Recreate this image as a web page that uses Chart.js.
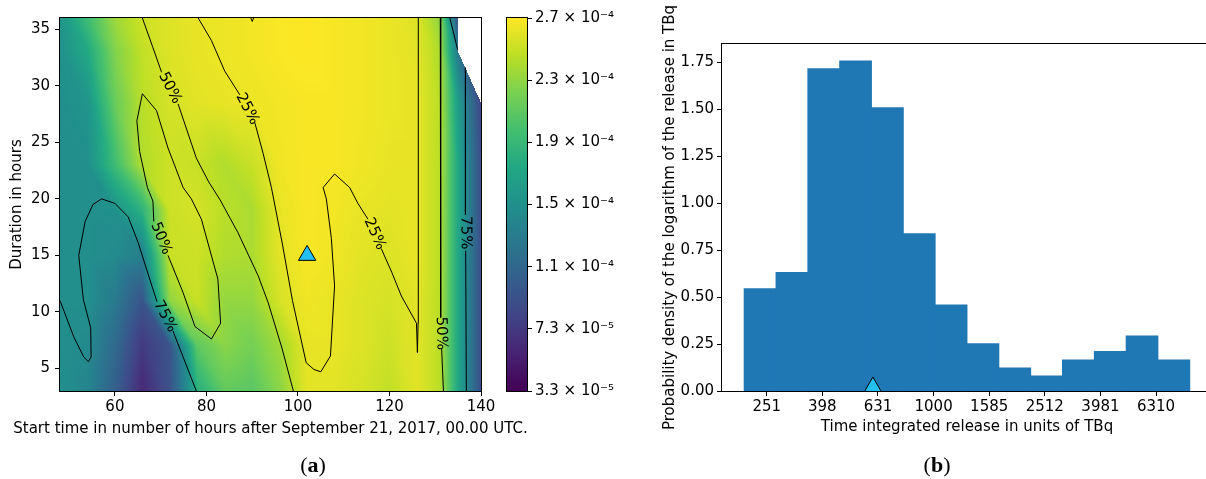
<!DOCTYPE html>
<html>
<head>
<meta charset="utf-8">
<script src="https://cdn.jsdelivr.net/npm/chart.js@4.4.1/dist/chart.umd.min.js"></script>
<style>
  html, body { margin: 0; padding: 0; background: #fff; width: 1206px; height: 479px; overflow: hidden; }
  canvas { position: absolute; top: 0; }
  #heat { left: 0; }
  #cbar { left: 500px; }
  #hist { left: 640px; }
  .cap { position: absolute; top: 454px; line-height: 22px; font-family: "Liberation Serif", "DejaVu Serif", serif; font-size: 22px; transform: translateX(-50%); white-space: nowrap; }
  .cap b { font-weight: bold; }
</style>
</head>
<body>
<canvas id="heat" width="560" height="479"></canvas>
<canvas id="cbar" width="120" height="479"></canvas>
<canvas id="hist" width="580" height="479"></canvas>
<div class="cap" style="left:313px">(<b>a</b>)</div>
<div class="cap" style="left:937px">(<b>b</b>)</div>
<script>
// ---------- panel (a): field over start time / duration ----------
const startNodes = [48, 54, 60, 66, 72, 78, 84, 90, 96, 102, 108, 114, 120, 126, 131, 134.9, 140];
const durationNodes = [3, 7, 11, 15, 19, 23, 28.5, 33.1, 36];
// field values in units of 1e-4, one row per duration node (null = not sampled)
const rowD03 = [1.50, 1.40, 1.05, 0.60, 0.92, 1.80, 2.12, 2.08, 2.28, 2.60, 2.60, 2.55, 2.48, 2.60, 2.45, 1.75, 0.90];
const rowD07 = [1.50, 1.45, 1.15, 0.72, 0.95, 2.10, 2.28, 2.20, 2.36, 2.62, 2.62, 2.58, 2.52, 2.60, 2.45, 1.75, 0.90];
const rowD11 = [1.50, 1.50, 1.30, 0.95, 2.30, 2.50, 2.32, 2.32, 2.55, 2.65, 2.62, 2.58, 2.55, 2.60, 2.45, 1.75, 0.90];
const rowD15 = [1.50, 1.50, 1.45, 1.35, 2.50, 2.52, 2.42, 2.40, 2.60, 2.68, 2.65, 2.60, 2.58, 2.62, 2.45, 1.75, 0.90];
const rowD19 = [1.50, 1.50, 1.52, 1.85, 2.52, 2.55, 2.45, 2.40, 2.62, 2.68, 2.66, 2.62, 2.60, 2.62, 2.45, 1.75, 0.90];
const rowD23 = [1.50, 1.50, 1.95, 2.42, 2.52, 2.50, 2.42, 2.50, 2.65, 2.68, 2.68, 2.65, 2.62, 2.62, 2.45, 1.75, 0.90];
const rowD28 = [1.50, 1.55, 2.15, 2.45, 2.55, 2.60, 2.62, 2.64, 2.66, 2.68, 2.68, 2.66, 2.63, 2.62, 2.45, 1.65, 0.82];
const rowD33 = [1.52, 1.75, 2.25, 2.48, 2.58, 2.62, 2.64, 2.66, 2.69, 2.70, 2.68, 2.66, 2.63, 2.60, 2.40, 1.30, null];
const rowD36 = [1.55, 1.95, 2.35, 2.52, 2.58, 2.62, 2.64, 2.66, 2.69, 2.70, 2.68, 2.66, 2.63, 2.58, 2.30, 0.95, null];
const fieldRows = [rowD03, rowD07, rowD11, rowD15, rowD19, rowD23, rowD28, rowD33, rowD36];

// probability contours (start time, duration); null breaks the line for a label
const contour50Upper = [[66.0,36.0],[68.2,33.5],[70.2,31.2],null,[73.8,28.4],[75.8,26.0],[77.8,23.6],[80.5,21.5],[83.0,19.9],[86.9,17.0],[91.3,13.2],[93.5,10.8],[96.5,6.8],[99.0,3.0]];
const contour25Main = [[78.2,36.0],[81.1,34.0],[84.0,31.3],[87.3,29.2],null,[90.6,26.7],[92.4,24.0],[94.2,21.0],[96.6,16.0],[98.8,11.0],[101.8,5.5],[103.5,4.9],[105.0,4.7],[107.1,6.1],[108.0,12.3],[107.3,16.5],[106.2,20.0],[105.5,21.0],[108.0,22.2],[111.3,21.0],[113.1,19.6],[115.3,18.2],null,[118.2,15.6],[120.5,13.5],[122.6,11.4],[125.9,9.0],[126.1,6.4],[126.25,9.0],[126.3,36.0]];
const contour50Inner = [[66.0,29.3],[69.1,27.8],[71.6,24.5],[74.9,21.0],[76.7,20.0],[78.9,18.2],[82.5,12.9],[83.1,9.0],[81.1,7.6],[77.5,8.7],[74.9,11.7],[71.6,15.0],null,[68.5,18.0],[68.3,19.8],[67.1,21.0],[65.4,24.2],[64.8,26.9],[66.0,29.3]];
const contour75Left = [[48.0,11.0],[51.0,7.8],[53.2,6.0],[54.2,5.6],[54.8,6.0],[54.7,8.6],[53.1,11.1],[52.1,15.0],[53.5,18.0],[55.2,19.5],[57.1,20.0],[60.0,19.6],[62.9,18.4],[65.1,16.1],[67.6,12.9],[69.2,10.9],null,[72.7,8.3],[77.8,3.0]];
const contour50Right = [[131.1,36.0],[131.2,9.5],null,[131.4,6.7],[131.8,3.0]];
const contour75Right = [[136.6,31.6],[136.6,18.6],null,[136.65,15.4],[136.8,3.0]];
const contour75Corner = [[133.2,36.0],[134.9,33.2]];
const contour25Tip = [[89.7,36.0],[90.0,35.7],[90.3,36.0]];
const contourLabels = [
  { text: '50%', from: [70.2, 31.2], to: [73.8, 28.4] },
  { text: '25%', from: [87.3, 29.2], to: [90.6, 26.7] },
  { text: '50%', from: [68.5, 18.0], to: [71.6, 15.0] },
  { text: '75%', from: [69.2, 10.9], to: [72.7, 8.3] },
  { text: '25%', from: [115.3, 18.2], to: [118.2, 15.6] },
  { text: '50%', from: [131.2, 9.5], to: [131.4, 6.7] },
  { text: '75%', from: [136.6, 18.6], to: [136.65, 15.4] }
];
const bestEstimate = { start: 102, duration: 15 };
const startTicks = [60, 80, 100, 120, 140];
const durationTicks = [5, 10, 15, 20, 25, 30, 35];
const startTitle = 'Start time in number of hours after September 21, 2017, 00.00 UTC.';

// colour bar (units of 1e-4)
const cbMin = 0.33, cbMax = 2.70;
const cbTicks = [0.33, 0.725, 1.12, 1.515, 1.91, 2.305, 2.70];
const cbTickLabels = ['3.3 × 10⁻⁵', '7.3 × 10⁻⁵', '1.1 × 10⁻⁴', '1.5 × 10⁻⁴', '1.9 × 10⁻⁴', '2.3 × 10⁻⁴', '2.7 × 10⁻⁴'];

// ---------- panel (b): histogram of log10 release ----------
const binEdgesLog = [2.319, 2.433, 2.548, 2.662, 2.777, 2.891, 3.006, 3.120, 3.235, 3.349, 3.463, 3.578, 3.692, 3.807, 3.921];
const density = [0.544, 0.631, 1.716, 1.758, 1.508, 0.837, 0.458, 0.252, 0.123, 0.080, 0.165, 0.210, 0.293, 0.165];
const releaseTickLogs = [2.4, 2.6, 2.8, 3.0, 3.2, 3.4, 3.6, 3.8];
const releaseTickLabels = ['251', '398', '631', '1000', '1585', '2512', '3981', '6310'];
const densityTicks = [0, 0.25, 0.5, 0.75, 1.0, 1.25, 1.5, 1.75];
const bestRelease = 605; // TBq

// ---------- helpers ----------
const FONT = { family: 'DejaVu Sans', size: 15 };
const VIRIDIS = ['#440154', '#482475', '#414487', '#355f8d', '#2a788e', '#21918c', '#22a884', '#44bf70', '#7ad151', '#bddf26', '#fde725']
  .map(h => [parseInt(h.slice(1, 3), 16), parseInt(h.slice(3, 5), 16), parseInt(h.slice(5, 7), 16)]);
function viridis(t) {
  t = Math.min(1, Math.max(0, t));
  const p = t * (VIRIDIS.length - 1), i = Math.min(VIRIDIS.length - 2, Math.floor(p)), f = p - i;
  const a = VIRIDIS[i], b = VIRIDIS[i + 1];
  return [a[0] + (b[0] - a[0]) * f, a[1] + (b[1] - a[1]) * f, a[2] + (b[2] - a[2]) * f];
}
function cellIndex(nodes, v) {
  for (let i = 0; i < nodes.length - 2; i++) if (v < nodes[i + 1]) return i;
  return nodes.length - 2;
}
// linear interpolation on the two triangles of each grid cell
function fieldAt(xv, yv) {
  const i = cellIndex(startNodes, xv), j = cellIndex(durationNodes, yv);
  const u = (xv - startNodes[i]) / (startNodes[i + 1] - startNodes[i]);
  const v = (yv - durationNodes[j]) / (durationNodes[j + 1] - durationNodes[j]);
  const f00 = fieldRows[j][i], f10 = fieldRows[j][i + 1], f01 = fieldRows[j + 1][i], f11 = fieldRows[j + 1][i + 1];
  if (u + v <= 1) {
    if (f00 == null || f10 == null || f01 == null) return null;
    return f00 + u * (f10 - f00) + v * (f01 - f00);
  }
  if (f11 == null || f10 == null || f01 == null) return null;
  return f11 + (1 - u) * (f01 - f11) + (1 - v) * (f10 - f11);
}
const toPoints = arr => arr.map(p => p ? { x: p[0], y: p[1] } : { x: NaN, y: NaN });

const heatFieldPlugin = {
  id: 'heatField',
  beforeDatasetsDraw(chart) {
    const { ctx, chartArea: a, scales: { x, y } } = chart;
    const w = Math.round(a.right - a.left), h = Math.round(a.bottom - a.top);
    const off = document.createElement('canvas');
    off.width = w; off.height = h;
    const octx = off.getContext('2d');
    const img = octx.createImageData(w, h);
    for (let py = 0; py < h; py++) {
      const yv = y.getValueForPixel(a.top + py + 0.5);
      for (let px = 0; px < w; px++) {
        const xv = x.getValueForPixel(a.left + px + 0.5);
        const val = fieldAt(xv, yv);
        const k = (py * w + px) * 4;
        if (val == null) { img.data[k + 3] = 0; continue; }
        const c = viridis((val - cbMin) / (cbMax - cbMin));
        img.data[k] = c[0]; img.data[k + 1] = c[1]; img.data[k + 2] = c[2]; img.data[k + 3] = 255;
      }
    }
    octx.putImageData(img, 0, 0);
    ctx.drawImage(off, a.left, a.top);
  }
};

const contourLabelPlugin = {
  id: 'contourLabels',
  afterDatasetsDraw(chart) {
    const { ctx, scales: { x, y } } = chart;
    ctx.save();
    ctx.font = `${FONT.size}px ${FONT.family}`;
    ctx.fillStyle = '#000';
    ctx.textAlign = 'center';
    ctx.textBaseline = 'middle';
    contourLabels.forEach(l => {
      const ax = x.getPixelForValue(l.from[0]), ay = y.getPixelForValue(l.from[1]);
      const bx = x.getPixelForValue(l.to[0]), by = y.getPixelForValue(l.to[1]);
      let ang = Math.atan2(by - ay, bx - ax);
      if (ang > Math.PI / 2) ang -= Math.PI;
      if (ang <= -Math.PI / 2) ang += Math.PI;
      ctx.save();
      ctx.translate((ax + bx) / 2, (ay + by) / 2);
      ctx.rotate(ang);
      ctx.fillText(l.text, 0, 0);
      ctx.restore();
    });
    ctx.restore();
  }
};

// x-axis caption of panel (a), wider than the plot itself
const startTitlePlugin = {
  id: 'startTitle',
  afterDraw(chart) {
    const { ctx, chartArea: a } = chart;
    ctx.save();
    ctx.font = `${FONT.size}px ${FONT.family}`;
    ctx.fillStyle = '#000';
    ctx.textAlign = 'center';
    ctx.textBaseline = 'middle';
    ctx.fillText(startTitle, (a.left + a.right) / 2, a.bottom + 38);
    ctx.restore();
  }
};

const framePlugin = {
  id: 'frame',
  afterDatasetsDraw(chart) {
    const { ctx, chartArea: a } = chart;
    ctx.save();
    ctx.strokeStyle = '#000';
    ctx.lineWidth = 1;
    ctx.strokeRect(Math.round(a.left) - 0.5, Math.round(a.top) - 0.5, Math.round(a.right - a.left) + 1, Math.round(a.bottom - a.top) + 1);
    ctx.restore();
  }
};

const colourBarPlugin = {
  id: 'colourBar',
  beforeDatasetsDraw(chart) {
    const { ctx, chartArea: a, scales: { y } } = chart;
    for (let py = Math.round(a.top); py < Math.round(a.bottom); py++) {
      const c = viridis((y.getValueForPixel(py + 0.5) - cbMin) / (cbMax - cbMin));
      ctx.fillStyle = `rgb(${c[0] | 0},${c[1] | 0},${c[2] | 0})`;
      ctx.fillRect(a.left, py, a.right - a.left, 1);
    }
  }
};

const tickGrid = { drawOnChartArea: false, drawTicks: true, tickLength: 5, color: '#000', lineWidth: 1 };
const common = {
  responsive: false,
  animation: false,
  devicePixelRatio: 1,
  plugins: { legend: { display: false }, tooltip: { enabled: false } }
};

// panel (a)
const lineStyle = { showLine: true, borderColor: '#000', borderWidth: 1, pointRadius: 0, fill: false, tension: 0 };
new Chart(document.getElementById('heat'), {
  type: 'scatter',
  data: {
    datasets: [
      contour50Upper, contour25Main, contour50Inner, contour75Left,
      contour50Right, contour75Right, contour75Corner, contour25Tip
    ].map(c => Object.assign({ data: toPoints(c) }, lineStyle)).concat([{
      data: [{ x: bestEstimate.start, y: bestEstimate.duration }],
      pointStyle: 'triangle', pointRadius: 10,
      pointBackgroundColor: '#22bff0', pointBorderColor: '#000', pointBorderWidth: 1
    }])
  },
  options: Object.assign({}, common, {
    layout: { autoPadding: false, padding: { top: 18, right: 79, left: 0, bottom: 0 } },
    scales: {
      x: {
        type: 'linear', min: 48, max: 140,
        afterBuildTicks: s => { s.ticks = startTicks.map(v => ({ value: v })); },
        afterFit: s => { s.height = 88; },
        grid: tickGrid, border: { display: false },
        ticks: { font: FONT, color: '#000', padding: 2, maxRotation: 0, autoSkip: false }
      },
      y: {
        type: 'linear', min: 3, max: 36,
        afterBuildTicks: s => { s.ticks = durationTicks.map(v => ({ value: v })); },
        afterFit: s => { s.width = 60; },
        grid: tickGrid, border: { display: false },
        ticks: { font: FONT, color: '#000', padding: 5, autoSkip: false },
        title: { display: true, text: 'Duration in hours', font: FONT, color: '#000', padding: { top: 8, bottom: 0 } }
      }
    }
  }),
  plugins: [heatFieldPlugin, contourLabelPlugin, framePlugin, startTitlePlugin]
});

// colour bar
new Chart(document.getElementById('cbar'), {
  type: 'scatter',
  data: { datasets: [] },
  options: Object.assign({}, common, {
    layout: { autoPadding: false, padding: { top: 18, right: 0, left: 7, bottom: 88 } },
    scales: {
      x: { type: 'linear', display: false, min: 0, max: 1 },
      y: {
        type: 'linear', position: 'right', min: cbMin, max: cbMax,
        afterBuildTicks: s => { s.ticks = cbTicks.map(v => ({ value: v })); },
        afterFit: s => { s.width = 93; },
        grid: tickGrid, border: { display: false },
        ticks: { font: FONT, color: '#000', padding: 3, autoSkip: false,
          callback: (v, i) => cbTickLabels[i] }
      }
    }
  }),
  plugins: [colourBarPlugin, framePlugin]
});

// panel (b)
const binCentres = density.map((_, i) => (binEdgesLog[i] + binEdgesLog[i + 1]) / 2);
new Chart(document.getElementById('hist'), {
  type: 'bar',
  data: {
    datasets: [{
      order: 1,
      data: binCentres.map((c, i) => ({ x: c, y: density[i] })),
      backgroundColor: '#1f77b4', borderWidth: 0, inflateAmount: 0.5,
      barPercentage: 1, categoryPercentage: 1
    }, {
      order: 0,
      type: 'scatter',
      data: [{ x: Math.log10(bestRelease), y: 0 }],
      pointStyle: 'triangle', pointRadius: 14,
      pointBackgroundColor: '#22bff0', pointBorderColor: '#000', pointBorderWidth: 1,
      clip: 0
    }]
  },
  options: Object.assign({}, common, {
    layout: { autoPadding: false, padding: { top: 44, right: 8, left: 0, bottom: 0 } },
    scales: {
      x: {
        type: 'linear', min: 2.2392, max: 4.0011, offset: false,
        afterBuildTicks: s => { s.ticks = releaseTickLogs.map(v => ({ value: v })); },
        afterFit: s => { s.height = 88; },
        grid: Object.assign({ offset: false }, tickGrid), border: { display: false },
        ticks: { font: FONT, color: '#000', padding: 2, maxRotation: 0, autoSkip: false,
          callback: (v, i) => releaseTickLabels[i] },
        title: { display: true, text: 'Time integrated release in units of TBq', font: FONT, color: '#000', padding: { top: 0, bottom: 43 } }
      },
      y: {
        type: 'linear', min: 0, max: 1.848,
        afterBuildTicks: s => { s.ticks = densityTicks.map(v => ({ value: v })); },
        afterFit: s => { s.width = 82; },
        grid: tickGrid, border: { display: false },
        ticks: { font: FONT, color: '#000', padding: 3, autoSkip: false,
          callback: v => v.toFixed(2) },
        title: { display: true, text: 'Probability density of the logarithm of the release in TBq', font: FONT, color: '#000', padding: { top: 21, bottom: 0 } }
      }
    }
  }),
  plugins: [framePlugin]
});
</script>
</body>
</html>
